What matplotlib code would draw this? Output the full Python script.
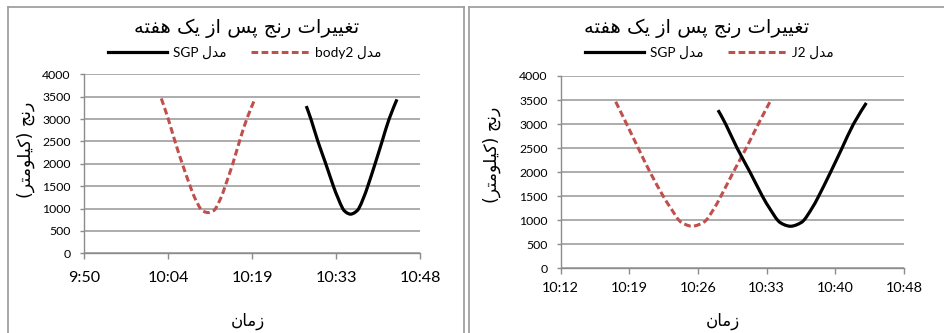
import matplotlib
matplotlib.use("Agg")
import matplotlib.pyplot as plt
from matplotlib.lines import Line2D
from matplotlib.path import Path
from matplotlib.patches import PathPatch
from matplotlib.ticker import FuncFormatter, MultipleLocator
from matplotlib.font_manager import FontProperties

# ---------------------------------------------------------------- data
# range (km) of the satellite versus time of day, one week after epoch
sgp_times = ["10:28:30", "10:29:18", "10:30:30", "10:31:51", "10:33:09", "10:33:54",
             "10:34:45", "10:35:24", "10:36:06", "10:36:48", "10:37:30", "10:38:21",
             "10:39:03", "10:40:18", "10:41:30", "10:42:42", "10:44:03"]
sgp_range = [3290, 3000, 2500, 2000, 1500, 1250, 1000, 910, 875, 910, 1000, 1250,
             1500, 2000, 2500, 3000, 3440]

body2_times = ["10:03:39", "10:04:51", "10:06:00", "10:07:15", "10:08:36", "10:09:21",
               "10:10:21", "10:10:57", "10:11:39", "10:12:21", "10:12:57", "10:13:54",
               "10:14:36", "10:15:54", "10:17:03", "10:18:18", "10:19:42"]
body2_range = [3460, 3000, 2500, 2000, 1500, 1250, 1000, 935, 910, 935, 1000, 1250,
               1500, 2000, 2500, 3000, 3450]

j2_times = ["10:17:46", "10:18:55", "10:20:08", "10:21:22", "10:22:45", "10:23:33",
            "10:24:24", "10:25:06", "10:25:48", "10:26:30", "10:27:15", "10:28:06",
            "10:28:48", "10:30:06", "10:31:27", "10:32:43", "10:33:57"]
j2_range = [3465, 3000, 2500, 2000, 1500, 1250, 1000, 910, 875, 910, 1000, 1250,
            1500, 2000, 2500, 3000, 3465]

title_text = "تغییرات رنج پس از یک هفته"
ylabel_text = "رنج (کیلومتر)"
xlabel_text = "زمان"
label_sgp = "مدل SGP"
label_body2 = "مدل body2"
label_j2 = "مدل J2"

# x axis ranges and tick steps, in fractions of a day
left_xlim, left_step = (0.41, 0.45), 0.01
right_xlim, right_step = (0.425, 0.45), 0.005


# ---------------------------------------------------------------- Persian text
FORMS = {
    'ا': ('\uFE8D', '\uFE8E'), 'د': ('\uFEA9', '\uFEAA'), 'ر': ('\uFEAD', '\uFEAE'),
    'ز': ('\uFEAF', '\uFEB0'), 'و': ('\uFEED', '\uFEEE'),
    'ت': ('\uFE95', '\uFE96', '\uFE97', '\uFE98'),
    'ج': ('\uFE9D', '\uFE9E', '\uFE9F', '\uFEA0'),
    'س': ('\uFEB1', '\uFEB2', '\uFEB3', '\uFEB4'),
    'غ': ('\uFECD', '\uFECE', '\uFECF', '\uFED0'),
    'ف': ('\uFED1', '\uFED2', '\uFED3', '\uFED4'),
    'ل': ('\uFEDD', '\uFEDE', '\uFEDF', '\uFEE0'),
    'م': ('\uFEE1', '\uFEE2', '\uFEE3', '\uFEE4'),
    'ن': ('\uFEE5', '\uFEE6', '\uFEE7', '\uFEE8'),
    'ه': ('\uFEE9', '\uFEEA', '\uFEEB', '\uFEEC'),
    'پ': ('\uFB56', '\uFB57', '\uFB58', '\uFB59'),
    'ک': ('\uFB8E', '\uFB8F', '\uFB90', '\uFB91'),
    'ی': ('\uFBFC', '\uFBFD', '\uFBFE', '\uFBFF'),
}


def shape(s):
    s = s.replace('\u064A', '\u06CC').replace('\u0643', '\u06A9')
    out = []
    for i, c in enumerate(s):
        if c not in FORMS:
            out.append(c)
            continue
        prev = s[i - 1] if i > 0 else ''
        nxt = s[i + 1] if i + 1 < len(s) else ''
        joins_prev = prev in FORMS and len(FORMS[prev]) == 4
        joins_next = len(FORMS[c]) == 4 and nxt in FORMS
        f = FORMS[c]
        if joins_prev and joins_next:
            out.append(f[3])
        elif joins_prev:
            out.append(f[1])
        elif joins_next:
            out.append(f[2])
        else:
            out.append(f[0])
    return ''.join(out)


def is_arabic(ch):
    o = ord(ch)
    return 0x0600 <= o <= 0x06FF or 0xFB50 <= o <= 0xFEFF


def rtl(s):
    words = shape(s).split(' ')
    out = []
    for w in reversed(words):
        if any(is_arabic(ch) for ch in w):
            w = w[::-1].translate(str.maketrans('()', ')('))
        out.append(w)
    return ' '.join(out)


def to_days(t):
    h, m, sec = (int(v) for v in t.split(':'))
    return (h * 3600 + m * 60 + sec) / 86400.0


def hm(v, pos=None):
    s = int(round(v * 86400))
    return f"{s // 3600}:{(s % 3600) // 60:02d}"


def smooth_path(xs, ys):
    """Spreadsheet-style smoothed line: cubic Bezier segments through the points."""
    pts = list(zip(xs, ys))
    n = len(pts)
    verts = [pts[0]]
    codes = [Path.MOVETO]
    for i in range(n - 1):
        p0 = pts[i - 1] if i > 0 else pts[i]
        p1, p2 = pts[i], pts[i + 1]
        p3 = pts[i + 2] if i + 2 < n else pts[i + 1]
        c1 = (p1[0] + (p2[0] - p0[0]) / 6, p1[1] + (p2[1] - p0[1]) / 6)
        c2 = (p2[0] - (p3[0] - p1[0]) / 6, p2[1] - (p3[1] - p1[1]) / 6)
        verts += [c1, c2, p2]
        codes += [Path.CURVE4] * 3
    return Path(verts, codes)


# ---------------------------------------------------------------- figure
W, H = 944, 333
fig = plt.figure(figsize=(W / 100, H / 100), dpi=100)
LATIN = ['Lato', 'DejaVu Sans']
AR = ['DejaVu Sans']
GRID = '#a6a6a6'
RED = '#c0504d'
DASH = (0, (2.2, 1.1))


def px(x, y):
    return x / W, 1 - y / H


def panel_axes(x0, x1, ytop, ybot):
    return fig.add_axes([x0 / W, 1 - ybot / H, (x1 - x0) / W, (ybot - ytop) / H])


def style(ax, xlim, step, xfs, xpad):
    ax.set_xlim(*xlim)
    ax.set_ylim(0, 4000)
    ax.xaxis.set_major_locator(MultipleLocator(step))
    ax.yaxis.set_major_locator(MultipleLocator(500))
    ax.xaxis.set_major_formatter(FuncFormatter(hm))
    ax.grid(axis='y', color=GRID, lw=1.3)
    ax.set_axisbelow(True)
    for sp in ('top', 'right'):
        ax.spines[sp].set_visible(False)
    for sp in ('left', 'bottom'):
        ax.spines[sp].set_color('#8c8c8c')
        ax.spines[sp].set_linewidth(1.0)
    ax.tick_params(axis='x', direction='out', length=4, width=1, color='#8c8c8c',
                   pad=xpad, labelsize=xfs)
    ax.tick_params(axis='y', direction='out', length=3, width=1, color='#8c8c8c',
                   pad=6.5, labelsize=8.8)
    for lab in ax.get_xticklabels() + ax.get_yticklabels():
        lab.set_family(LATIN)


def draw_lines(ax, t_red, r_red):
    red = PathPatch(smooth_path([to_days(t) for t in t_red], r_red),
                    transform=ax.transData, fill=False, edgecolor=RED, lw=2.2,
                    ls=DASH, capstyle='butt', joinstyle='round')
    black = PathPatch(smooth_path([to_days(t) for t in sgp_times], sgp_range),
                      transform=ax.transData, fill=False, edgecolor='black', lw=2.3,
                      capstyle='butt', joinstyle='round')
    ax.add_patch(red)
    ax.add_patch(black)


# left chart
axL = panel_axes(84, 420, 74.3, 253.3)
style(axL, left_xlim, left_step, 11.6, 8.5)
draw_lines(axL, body2_times, body2_range)

# right chart
axR = panel_axes(560.7, 904, 76, 268.3)
style(axR, right_xlim, right_step, 10.4, 6.0)
draw_lines(axR, j2_times, j2_range)

# titles, axis labels
for cx in (246.7, 697):
    fig.text(*px(cx, 28), rtl(title_text), ha='center', va='center',
             fontsize=14, family=AR)
for cx, cy in ((26, 150), (491.5, 155)):
    fig.text(*px(cx, cy), rtl(ylabel_text), ha='center', va='center',
             rotation=90, fontsize=12.5, family=AR)
for cx in (247.5, 723):
    fig.text(*px(cx, 321), rtl(xlabel_text), ha='center', va='center',
             fontsize=12, family=AR)

# legends
leg_prop = FontProperties(family=LATIN, size=9.8)
for cx, red_label in ((245, label_body2), (709.5, label_j2)):
    handles = [Line2D([], [], color='black', lw=2.3),
               Line2D([], [], color=RED, lw=2.2, ls=DASH)]
    fig.legend(handles, [rtl(label_sgp), rtl(red_label)], loc='center',
               bbox_to_anchor=px(cx, 52), ncol=2, frameon=False, prop=leg_prop,
               handlelength=4.3, handletextpad=0.45, columnspacing=1.8,
               borderpad=0, borderaxespad=0)

# chart frames
frame = dict(color='#a0a0a0', lw=1.3, transform=fig.transFigure)
fig.add_artist(Line2D([8 / W, 8 / W], [0, 1 - 7 / H], **frame))
fig.add_artist(Line2D([8 / W, 464 / W], [1 - 7 / H, 1 - 7 / H], **frame))
fig.add_artist(Line2D([464 / W, 464 / W], [0, 1 - 7 / H], **frame))
fig.add_artist(Line2D([468.5 / W, 468.5 / W], [0, 1 - 7 / H], **frame))
fig.add_artist(Line2D([468.5 / W, 1], [1 - 7 / H, 1 - 7 / H], **frame))

fig.savefig("out.png", dpi=100)
